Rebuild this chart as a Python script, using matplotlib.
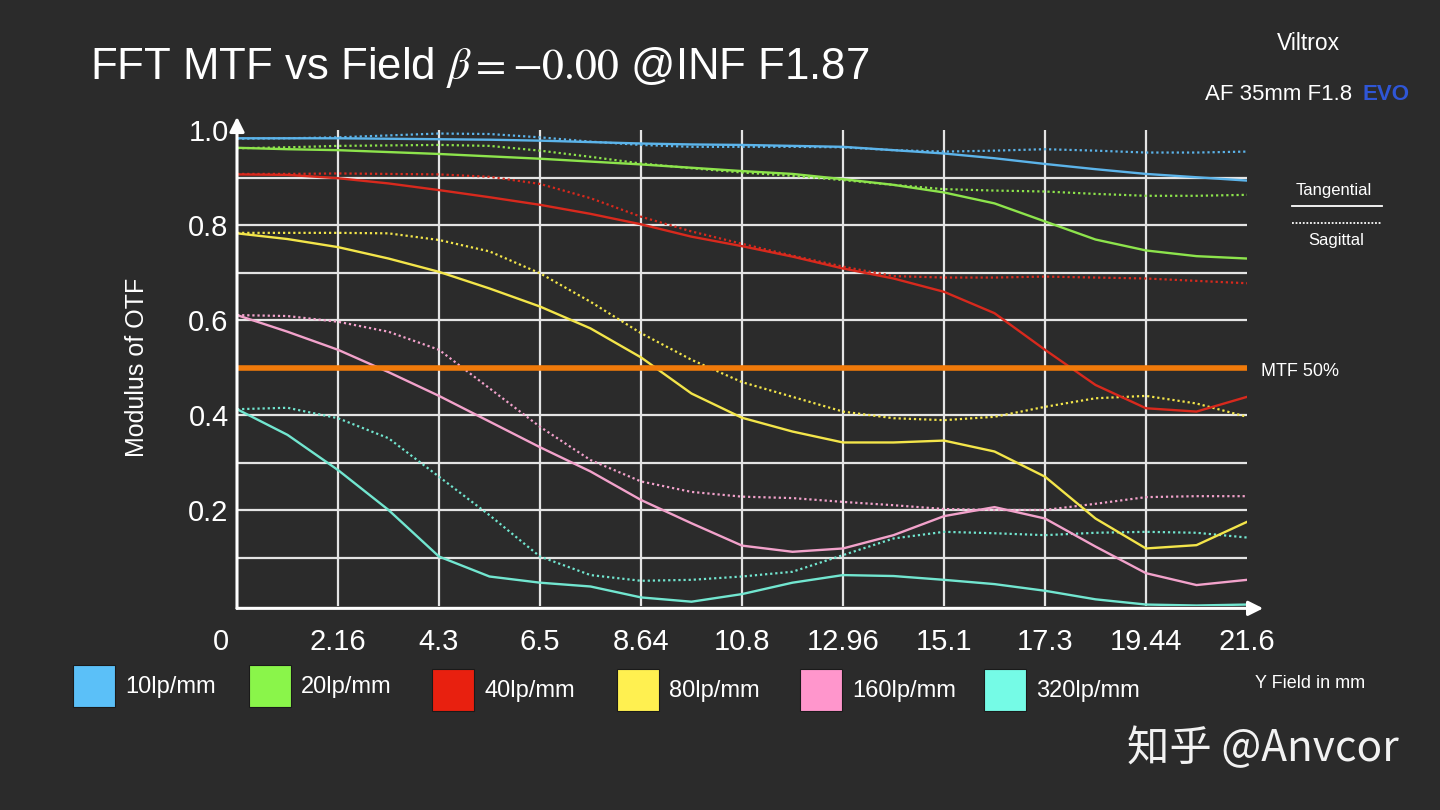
import matplotlib
matplotlib.use("Agg")
import matplotlib.pyplot as plt
from matplotlib.patches import Rectangle
from matplotlib.transforms import ScaledTranslation

plt.rcParams['font.family'] = ['Liberation Sans', 'DejaVu Sans']
plt.rcParams['mathtext.fontset'] = 'stix'

BG = '#2b2b2b'

# field positions (mm) where the curves were read
field = [0, 1.08, 2.16, 3.24, 4.32, 5.4, 6.48, 7.56, 8.64, 9.72, 10.8,
         11.88, 12.96, 14.04, 15.12, 16.2, 17.28, 18.36, 19.44, 20.52, 21.6]

tick_pos = [0, 2.16, 4.32, 6.48, 8.64, 10.8, 12.96, 15.12, 17.28, 19.44, 21.6]
tick_lbl = ['0', '2.16', '4.3', '6.5', '8.64', '10.8', '12.96', '15.1', '17.3', '19.44', '21.6']

freqs = ['10lp/mm', '20lp/mm', '40lp/mm', '80lp/mm', '160lp/mm', '320lp/mm']
line_colors = ['#5cb4ea', '#8de44c', '#d8291d', '#f3e54a', '#f2a2cb', '#72e6d0']
box_colors = ['#5bc0f8', '#8af54a', '#e8200f', '#fff050', '#ff96cc', '#75fbe6']

# tangential (solid)
t10 = [0.983, 0.983, 0.983, 0.982, 0.981, 0.980, 0.978, 0.975, 0.972, 0.970, 0.969,
       0.967, 0.965, 0.958, 0.951, 0.941, 0.929, 0.918, 0.908, 0.901, 0.894]
t20 = [0.963, 0.960, 0.958, 0.954, 0.950, 0.945, 0.940, 0.934, 0.928, 0.921, 0.914,
       0.908, 0.897, 0.885, 0.869, 0.846, 0.808, 0.770, 0.747, 0.735, 0.730]
t40 = [0.907, 0.906, 0.899, 0.888, 0.874, 0.859, 0.843, 0.824, 0.802, 0.776, 0.756,
       0.734, 0.709, 0.688, 0.660, 0.615, 0.538, 0.464, 0.415, 0.408, 0.439]
t80 = [0.783, 0.771, 0.754, 0.730, 0.702, 0.667, 0.629, 0.583, 0.522, 0.446, 0.395,
       0.366, 0.343, 0.343, 0.347, 0.324, 0.271, 0.183, 0.120, 0.127, 0.176]
t160 = [0.611, 0.576, 0.538, 0.491, 0.441, 0.387, 0.333, 0.282, 0.222, 0.173, 0.126,
        0.113, 0.120, 0.148, 0.188, 0.207, 0.183, 0.124, 0.068, 0.043, 0.054]
t320 = [0.413, 0.359, 0.285, 0.201, 0.103, 0.061, 0.048, 0.040, 0.017, 0.008, 0.024,
        0.048, 0.064, 0.062, 0.054, 0.045, 0.031, 0.013, 0.002, 0.000, 0.002]

# sagittal (dotted)
s10 = [0.982, 0.983, 0.985, 0.989, 0.993, 0.992, 0.985, 0.976, 0.969, 0.965, 0.965,
       0.965, 0.964, 0.958, 0.955, 0.957, 0.960, 0.957, 0.953, 0.953, 0.955]
s20 = [0.962, 0.964, 0.967, 0.968, 0.969, 0.967, 0.957, 0.944, 0.930, 0.920, 0.911,
       0.904, 0.895, 0.885, 0.876, 0.873, 0.871, 0.866, 0.862, 0.862, 0.864]
s40 = [0.908, 0.908, 0.909, 0.908, 0.907, 0.902, 0.887, 0.857, 0.818, 0.787, 0.761,
       0.736, 0.713, 0.693, 0.690, 0.690, 0.692, 0.690, 0.688, 0.683, 0.678]
s80 = [0.784, 0.784, 0.784, 0.783, 0.769, 0.745, 0.699, 0.639, 0.573, 0.517, 0.470,
       0.439, 0.408, 0.394, 0.390, 0.397, 0.418, 0.436, 0.441, 0.425, 0.397]
s160 = [0.611, 0.609, 0.597, 0.576, 0.538, 0.457, 0.376, 0.306, 0.261, 0.239, 0.229,
        0.226, 0.218, 0.211, 0.203, 0.201, 0.201, 0.214, 0.228, 0.230, 0.230]
s320 = [0.413, 0.416, 0.394, 0.352, 0.271, 0.190, 0.103, 0.064, 0.052, 0.054, 0.061,
        0.071, 0.106, 0.141, 0.155, 0.152, 0.148, 0.153, 0.155, 0.153, 0.143]

tang = [t10, t20, t40, t80, t160, t320]
sag = [s10, s20, s40, s80, s160, s320]

fig = plt.figure(figsize=(14.4, 8.1), dpi=100, facecolor=BG)
ax = fig.add_axes([237 / 1440, 204.5 / 810, 1010 / 1440, 475.3 / 810])
ax.set_facecolor(BG)
ax.set_xlim(0, 21.6)
ax.set_ylim(0, 1.0)
for sp in ax.spines.values():
    sp.set_visible(False)

# grid
for yv in [0.1, 0.2, 0.3, 0.4, 0.5, 0.6, 0.7, 0.8, 0.9]:
    ax.axhline(yv, color='#e4e4e4', lw=1.6, zorder=1)
for xv in tick_pos[1:-1]:
    ax.axvline(xv, color='#e4e4e4', lw=1.6, zorder=1)

# curves
for i in range(len(freqs)):
    ax.plot(field, sag[i], color=line_colors[i], lw=1.6, ls=(0, (1, 1.3)), zorder=3,
            solid_joinstyle='round')
    ax.plot(field, tang[i], color=line_colors[i], lw=1.7, zorder=4,
            solid_joinstyle='round')

ax.axhline(0.5, color='#f07a0a', lw=4, zorder=5)

# axes with arrows
ax.annotate('', xy=(0, 1.028), xytext=(0, -0.006), xycoords='axes fraction',
            arrowprops=dict(arrowstyle='-|>', color='white', lw=2.2, mutation_scale=22,
                            shrinkA=0, shrinkB=0), annotation_clip=False, zorder=6)
ax.annotate('', xy=(1.016, -0.006), xytext=(0, -0.006), xycoords='axes fraction',
            arrowprops=dict(arrowstyle='-|>', color='white', lw=2.2, mutation_scale=22,
                            shrinkA=0, shrinkB=0), annotation_clip=False, zorder=6)

ax.set_xticks(tick_pos, tick_lbl)
ax.set_yticks([0.2, 0.4, 0.6, 0.8, 1.0], ['0.2', '0.4', '0.6', '0.8', '1.0'])
ax.tick_params(axis='both', length=0, labelsize=21, labelcolor='white')
ax.tick_params(axis='x', pad=16)
ax.tick_params(axis='y', pad=6)
lbl0 = ax.get_xticklabels()[0]
lbl0.set_transform(lbl0.get_transform() + ScaledTranslation(-16 / 100, 0, fig.dpi_scale_trans))

ax.set_ylabel('Modulus of OTF', color='white', fontsize=18, labelpad=28)

# titles and labels
fig.text(90 / 1440, 1 - 67 / 810, r'FFT MTF vs Field $\beta = -0.00$ @INF F1.87',
         color='white', fontsize=31.5, va='center', ha='left')
fig.text(1308 / 1440, 1 - 44 / 810, 'Viltrox', color='white', fontsize=16.5,
         ha='center', va='center')
fig.text(1358 / 1440, 1 - 94 / 810, 'AF 35mm F1.8 ', color='white', fontsize=16,
         ha='right', va='center')
fig.text(1363 / 1440, 1 - 94 / 810, 'EVO', color='#2f56d6', fontsize=16,
         ha='left', va='center', fontweight='bold')

fig.text(1334 / 1440, 1 - 191 / 810, 'Tangential', color='white', fontsize=12,
         ha='center', va='center')
fig.add_artist(plt.Line2D([1292 / 1440, 1382 / 1440], [1 - 206 / 810, 1 - 206 / 810],
                          color='white', lw=1.3, transform=fig.transFigure))
fig.add_artist(plt.Line2D([1292 / 1440, 1381 / 1440], [1 - 223 / 810, 1 - 223 / 810],
                          color='white', lw=1.3, ls=(0, (1, 1)), transform=fig.transFigure))
fig.text(1336 / 1440, 1 - 240 / 810, 'Sagittal', color='white', fontsize=12,
         ha='center', va='center')

fig.text(1261 / 1440, 1 - 371 / 810, 'MTF 50%', color='white', fontsize=13,
         ha='left', va='center')
fig.text(1310 / 1440, 1 - 684 / 810, 'Y Field in mm', color='white', fontsize=13,
         ha='center', va='center')

# legend boxes
box_x = [73, 249, 432, 617, 800, 984]
box_y = [665, 665, 669, 669, 669, 669]
for i in range(len(freqs)):
    fig.add_artist(Rectangle((box_x[i] / 1440, 1 - (box_y[i] + 42) / 810), 42 / 1440, 42 / 810,
                             facecolor=box_colors[i], edgecolor='#1a1a1a', lw=0.8,
                             transform=fig.transFigure))
    fig.text((box_x[i] + 52) / 1440, 1 - (box_y[i] + 22) / 810, freqs[i], color='white',
             fontsize=17, ha='left', va='center')

# watermark
fig.text(1263 / 1440, 1 - 749 / 810, '知乎 @Anvcor', color='#f2f2f2', fontsize=30.5,
         ha='center', va='center', family=['Noto Sans CJK SC', 'DejaVu Sans'])

fig.savefig('out.png', dpi=100, facecolor=BG)
